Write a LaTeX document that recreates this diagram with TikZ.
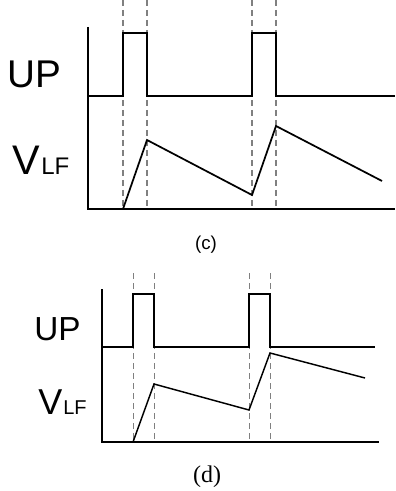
\documentclass[tikz,border=0pt]{standalone}
\usepackage{fontspec}
\setmainfont{Liberation Serif}
\setsansfont{Liberation Sans}
\usetikzlibrary{positioning}

\tikzset{
  wave/.style={black, line width=1.3pt, line join=miter},
  guide/.style={gray, line width=0.9pt, dash pattern=on 4.5pt off 3pt},
  lbl/.style={anchor=base west, inner sep=0pt},
}

\begin{document}
\begin{tikzpicture}[x=0.75pt,y=-0.75pt]
\useasboundingbox (0,0) rectangle (395,491);

% Panel (c)
\begin{scope}
    \foreach \x in {123,147,252,276}
        \draw[guide] (\x,0) -- (\x,209);
    \node[lbl, font=\sffamily\fontsize{29}{29}\selectfont] (upc) at (7,88) {UP};
    \node[lbl, font=\sffamily\fontsize{31}{31}\selectfont] (vc) at (12,175) {V};
    \node[lbl, font=\sffamily\fontsize{18}{18}\selectfont] (lfc) at (41,175) {LF};
    \draw[wave] (88,27) -- (88,209) -- (395,209);
    \draw[wave] (88,96) -- (123,96) -- (123,33) -- (147,33) -- (147,96)
        -- (252,96) -- (252,33) -- (276,33) -- (276,96) -- (395,96);
    \draw[wave] (123,209) -- (147,140) -- (252,195) -- (276,126) -- (382,181);
    \node[font=\sffamily\fontsize{14}{14}\selectfont] (capc) at (206,245) {(c)};
\end{scope}

% Panel (d)
\begin{scope}
    \foreach \x in {133,154,249,270}
        \draw[guide, line width=0.7pt] (\x,273) -- (\x,442);
    \node[lbl, font=\sffamily\fontsize{25}{25}\selectfont] (upd) at (34,340) {UP};
    \node[lbl, font=\sffamily\fontsize{27}{27}\selectfont] (vd) at (38,414) {V};
    \node[lbl, font=\sffamily\fontsize{15}{15}\selectfont] (lfd) at (63,414) {LF};
    \draw[wave, line width=1.1pt] (102,289) -- (102,442) -- (379,442);
    \draw[wave, line width=1.1pt] (102,347) -- (133,347) -- (133,294) -- (154,294) -- (154,347)
        -- (249,347) -- (249,294) -- (270,294) -- (270,347) -- (375,347);
    \draw[wave, line width=1.1pt] (133,442) -- (154,384) -- (249,410) -- (270,353) -- (365,378);
    \node[font=\fontsize{18}{18}\selectfont] (capd) at (207,477) {(d)};
\end{scope}

\end{tikzpicture}
\end{document}
